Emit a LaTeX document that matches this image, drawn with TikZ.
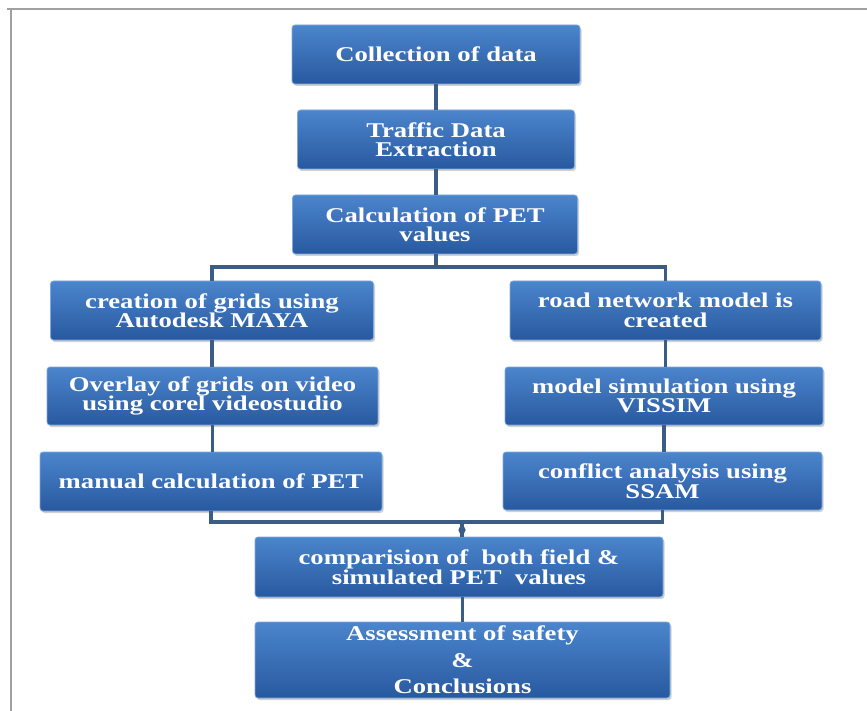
\documentclass[tikz,border=0pt]{standalone}
\usepackage{fontspec}
\newfontfamily\boxfont[FakeStretch=1.27]{Liberation Serif}
\usetikzlibrary{shadows}
\definecolor{boxtop}{HTML}{4B85CC}
\definecolor{boxbot}{HTML}{2859A0}
\definecolor{boxrim}{HTML}{7FAAE0}
\definecolor{conn}{HTML}{3A5C86}
\definecolor{framec}{HTML}{A0A0A0}
\tikzset{
  flowbox/.style={rectangle, rounded corners=3pt, draw=boxrim, line width=0.8pt,
    top color=boxtop, bottom color=boxbot, text=white, align=center,
    font=\boxfont\bfseries\fontsize{21}{19.5}\selectfont, inner sep=2pt,
    drop shadow={shadow xshift=1.5pt, shadow yshift=-2pt, opacity=0.3, fill=black!60}},
  link/.style={draw=conn, line width=3.2pt},
  framel/.style={draw=framec, line width=1.2pt}
}
\begin{document}
\begin{tikzpicture}[x=1pt,y=-1pt]
\useasboundingbox (0,0) rectangle (867,711);
\fill[white] (0,0) rectangle (867,711);
% frame
\draw[framel] (7,9) -- (867,9);
\draw[framel] (11,9) -- (11,711);
% boxes
\node[flowbox, minimum width=288pt, minimum height=59pt] (b1) at (436,54.5) {Collection of data};
\node[flowbox, minimum width=277pt, minimum height=59pt] (b2) at (436,139.5) {Traffic Data\\Extraction};
\node[flowbox, minimum width=285pt, minimum height=59pt] (b3) at (435,224.5) {Calculation of PET\\values};
\node[flowbox, minimum width=323pt, minimum height=59pt] (l1) at (212,310.5) {creation of grids using\\Autodesk MAYA};
\node[flowbox, minimum width=331pt, minimum height=58pt] (l2) at (212.5,396) {Overlay of grids on video\\using corel videostudio};
\node[flowbox, minimum width=342pt, minimum height=59pt] (l3) at (211,481.5) {manual calculation of PET};
\node[flowbox, minimum width=311pt, minimum height=59pt] (r1) at (665.5,310.5) {road network model is\\created};
\node[flowbox, minimum width=318pt, minimum height=58pt] (r2) at (664,396) {model simulation using\\VISSIM};
\node[flowbox, minimum width=319pt, minimum height=58pt] (r3) at (662.5,481) {conflict analysis using\\SSAM};
\node[flowbox, minimum width=408pt, minimum height=60pt] (c) at (459,567) {comparision of\ \ both field \&\\simulated PET\ \ values};
\node[flowbox, minimum width=415pt, minimum height=76pt,
  font=\boxfont\bfseries\fontsize{21}{26.5}\selectfont] (a) at (462.5,660) {Assessment of safety\\\&\\Conclusions};
% junctions
\coordinate (j1) at (436,267);
\coordinate (j2) at (462,522);
% connectors
\draw[link] (b1.south) -- (b1.south |- b2.north);
\draw[link] (b2.south) -- (b2.south |- b3.north);
\draw[link] (b3.south -| j1) -- (j1);
\draw[link] (l1.north) |- (j1) -| (r1.north);
\draw[link] (l1.south) -- (l1.south |- l2.north);
\draw[link] (l2.south) -- (l2.south |- l3.north);
\draw[link] (r1.south) -- (r1.south |- r2.north);
\draw[link] (r2.south) -- (r2.south |- r3.north);
\draw[link] (l3.south) |- (j2) -| (r3.south);
\draw[link] (j2) -- (j2 |- c.north);
\fill[conn] (462,530) circle (3.6pt);
\draw[link] (c.south -| a.north) -- (a.north);
\end{tikzpicture}
\end{document}
